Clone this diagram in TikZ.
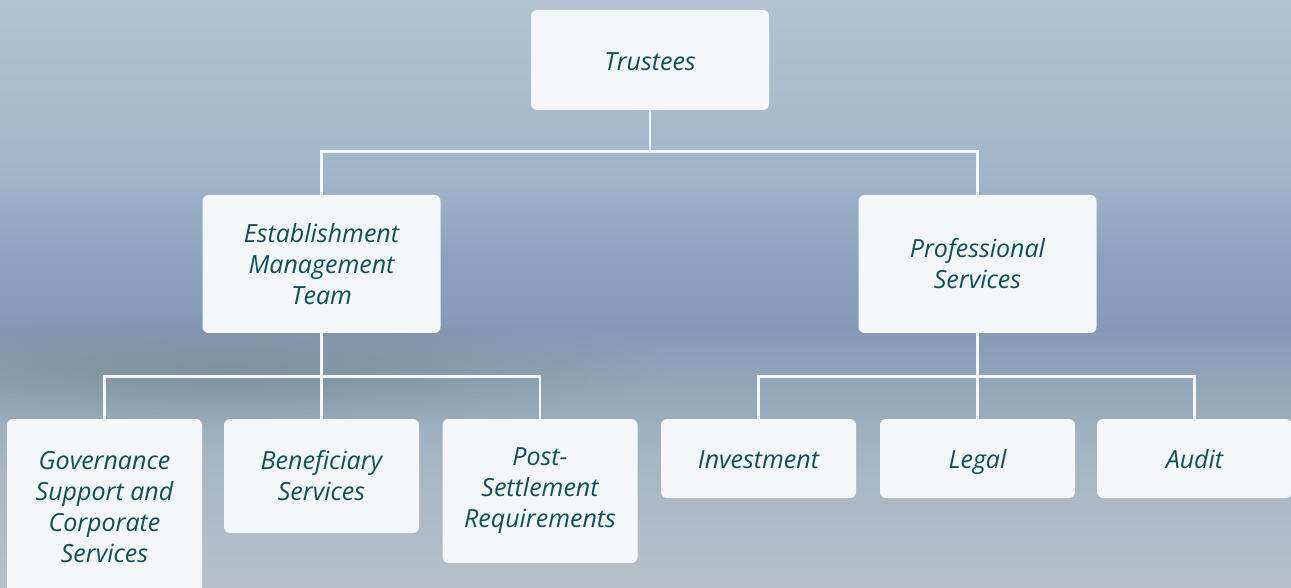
\documentclass[tikz,border=0pt]{standalone}
\usepackage{fontspec}
\setmainfont{Open Sans}
\usepackage{xcolor}
\usepackage{tikz}
\usetikzlibrary{positioning,fadings}

\definecolor{boxfill}{HTML}{F4F6F9}
\definecolor{boxtext}{HTML}{0D5057}
\definecolor{linkline}{HTML}{F4F6F9}
\definecolor{haze}{HTML}{7B8C93}
\definecolor{skyA}{HTML}{B3C2D3}
\definecolor{skyB}{HTML}{AABCCE}
\definecolor{skyC}{HTML}{A0B4C9}
\definecolor{skyD}{HTML}{8DA2BE}
\definecolor{skyE}{HTML}{8699B6}
\definecolor{skyF}{HTML}{97AAB9}
\definecolor{skyG}{HTML}{A9B7C3}
\definecolor{skyH}{HTML}{B5C0CA}

\pgfdeclareverticalshading{skyblur}{100bp}{
  color(0bp)=(skyH); color(25bp)=(skyH); color(35bp)=(skyG);
  color(41bp)=(skyF); color(47bp)=(skyE); color(53bp)=(skyD);
  color(60bp)=(skyC); color(66.5bp)=(skyB); color(75bp)=(skyA);
  color(100bp)=(skyA)}
\tikzfading[name=hazefade,inner color=transparent!0,outer color=transparent!100]
\newcommand\boxstrut{\rule[-3.5pt]{0pt}{17.4pt}}

\begin{document}
\begin{tikzpicture}[x=0.5pt,y=-0.5pt,
    orgbox/.style={rectangle,rounded corners=3pt,fill=boxfill,text=boxtext,
      font=\fontsize{12.5}{15.5}\selectfont\itshape,align=center,inner sep=0pt},
    oneline/.style={execute at begin node=\boxstrut,execute at end node=\boxstrut},
    wide/.style={orgbox,minimum width=119pt},
    narrow/.style={orgbox,minimum width=97.5pt},
    link/.style={draw=linkline,line width=1.25pt}]
    \useasboundingbox (0,0) rectangle (1291,588);
    \clip (0,0) rectangle (1291,588);

    % blurred backdrop
    \shade[shading=skyblur] (0,0) rectangle (1291,588);
    \fill[haze,path fading=hazefade,opacity=0.75] (230,370) ellipse [x radius=440, y radius=60];

    \node[wide,oneline,minimum height=50pt] (trustees) at (650,60) {Trustees};
    \node[wide,minimum height=69pt] (emt) at (321.5,264) {Establishment\\Management\\Team};
    \node[wide,minimum height=69pt] (prof) at (977.5,264) {Professional\\Services};

    \node[narrow,minimum height=88pt] (gov) at (104.5,507) {Governance\\Support and\\Corporate\\Services};
    \node[narrow,minimum height=57pt] (benef) at (321.5,476) {Beneficiary\\Services};
    \node[narrow,minimum height=72pt] (post) at (540,491) {Post-\\Settlement\\Requirements};

    \node[narrow,oneline,minimum height=39.5pt] (invest) at (758.5,458.5) {Investment};
    \node[narrow,oneline,minimum height=39.5pt] (legal) at (977.5,458.5) {Legal};
    \node[narrow,oneline,minimum height=39.5pt] (audit) at (1194.5,458.5) {Audit};

    \draw[link] (trustees.south) -- ++(0,41) coordinate (topbus) -| (emt.north);
    \draw[link] (topbus) -| (prof.north);

    \draw[link] (emt.south) -- ++(0,43) coordinate (leftbus) -| (gov.north);
    \draw[link] (leftbus) -- (benef.north);
    \draw[link] (leftbus) -| (post.north);

    \draw[link] (prof.south) -- ++(0,43) coordinate (rightbus) -| (invest.north);
    \draw[link] (rightbus) -- (legal.north);
    \draw[link] (rightbus) -| (audit.north);
\end{tikzpicture}
\end{document}
